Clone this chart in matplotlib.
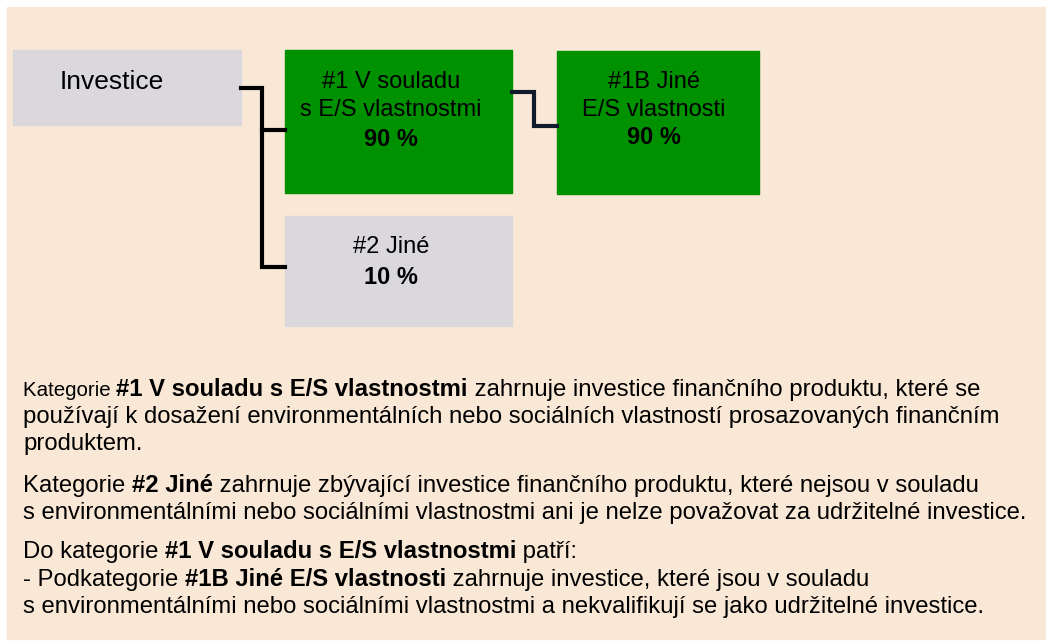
import matplotlib
matplotlib.use("Agg")
import matplotlib.pyplot as plt
from matplotlib.patches import Rectangle

plt.rcParams['font.family'] = ['Liberation Sans', 'DejaVu Sans']

# Diagram content
root_label = "Investice"
node_titles = ["#1 V souladu\ns E/S vlastnostmi", "#2 Jiné", "#1B Jiné\nE/S vlastnosti"]
node_shares = ["90 %", "10 %", "90 %"]

# Explanation text: each line is a list of (text, bold, size_scale)
notes = [
    [[("Kategorie ", False, 0.86), ("#1 V souladu s E/S vlastnostmi", True, 1.0),
      (" zahrnuje investice finančního produktu, které se", False, 1.0)],
     [("používají k dosažení environmentálních nebo sociálních vlastností prosazovaných finančním", False, 1.0)],
     [("produktem.", False, 1.0)]],
    [[("Kategorie ", False, 1.0), ("#2 Jiné", True, 1.0),
      (" zahrnuje zbývající investice finančního produktu, které nejsou v souladu", False, 1.0)],
     [("s environmentálními nebo sociálními vlastnostmi ani je nelze považovat za udržitelné investice.", False, 1.0)]],
    [[("Do kategorie ", False, 1.0), ("#1 V souladu s E/S vlastnostmi", True, 1.0), (" patří:", False, 1.0)],
     [("- Podkategorie ", False, 1.0), ("#1B Jiné E/S vlastnosti", True, 1.0),
      (" zahrnuje investice, které jsou v souladu", False, 1.0)],
     [("s environmentálními nebo sociálními vlastnostmi a nekvalifikují se jako udržitelné investice.", False, 1.0)]],
]

# Colours
bg = '#FAE8D7'
grey = '#DBD8DD'
green = '#009100'

fig = plt.figure(figsize=(10.46, 6.42), dpi=100)
ax = fig.add_axes([0, 0, 1, 1], frameon=False)
ax.set_xlim(0, 1046)
ax.set_ylim(642, 0)
ax.axis('off')

# Background panel
ax.add_patch(Rectangle((7, 7), 1039, 632, color=bg, zorder=0))

# Boxes (x, y, w, h) in pixel units
root_box = (13, 50, 228, 75)
node_boxes = [(285, 50, 227, 143), (285, 216, 227, 110), (557, 51, 202, 143)]
node_colors = [green, grey, green]

ax.add_patch(Rectangle(root_box[:2], root_box[2], root_box[3], color=grey, zorder=1))
ax.text(112, 82, root_label, fontsize=19, ha='center', va='center', zorder=3)

# Text line centres inside each node
title_y = [[82, 110], [247], [82, 110]]
share_y = [140, 277, 138]
text_x = [391, 391, 654]

for box, col, title, share, ty, sy, tx in zip(node_boxes, node_colors, node_titles,
                                              node_shares, title_y, share_y, text_x):
    ax.add_patch(Rectangle(box[:2], box[2], box[3], color=col, zorder=1))
    for line, y in zip(title.split("\n"), ty):
        ax.text(tx, y, line, fontsize=17, ha='center', va='center', zorder=3)
    ax.text(tx, sy, share, fontsize=17, fontweight='bold', ha='center', va='center', zorder=3)

# Connectors
lw = 3.0
ax.plot([241, 262, 262, 285], [88, 88, 267, 267], color='black', lw=lw,
        solid_joinstyle='miter', zorder=2)
ax.plot([262, 285], [130, 130], color='black', lw=lw, zorder=2)
ax.plot([512, 534, 534, 557], [92, 92, 126, 126], color='#111B2B', lw=lw,
        solid_joinstyle='miter', zorder=2)

# Explanation text with mixed bold runs
renderer = fig.canvas.get_renderer()
base_size = 17.2
baselines = [[396, 423, 450], [492, 519], [558, 586, 613]]
for para, ys in zip(notes, baselines):
    for line, y in zip(para, ys):
        x = 23
        for txt, bold, scale in line:
            t = ax.text(x, y, txt, fontsize=base_size * scale,
                        fontweight='bold' if bold else 'normal',
                        ha='left', va='baseline', zorder=3)
            x += t.get_window_extent(renderer).width

fig.savefig("out.png", dpi=100)
